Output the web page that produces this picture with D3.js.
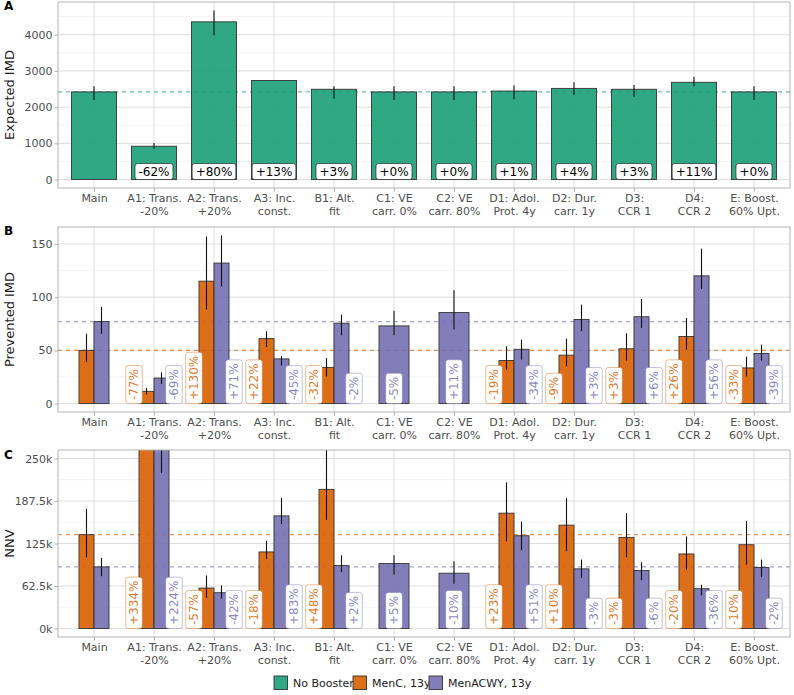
<!DOCTYPE html>
<html><head><meta charset="utf-8">
<script src="https://cdn.jsdelivr.net/npm/d3@7"></script>
<style>body{margin:0;background:#fff} svg{display:block;font-family:"DejaVu Sans",sans-serif}</style>
</head><body>
<svg id="chart" width="794" height="695"></svg>
<script>
// ---------- DATA ----------
const catLine1 = ["Main","A1: Trans.","A2: Trans.","A3: Inc.","B1: Alt.","C1: VE","C2: VE","D1: Adol.","D2: Dur.","D3:","D4:","E: Boost."];
const catLine2 = ["","-20%","+20%","const.","fit","carr. 0%","carr. 80%","Prot. 4y","carr. 1y","CCR 1","CCR 2","60% Upt."];

// Panel A: Expected IMD (No Booster)
const imdValue = [2420, 920, 4356, 2735, 2493, 2420, 2420, 2444, 2517, 2493, 2686, 2420];
const imdLo    = [2200, 850, 3984, null, 2235, 2200, 2200, 2215, 2335, 2290, 2580, 2200];
const imdHi    = [2580, 1008, 4670, null, 2580, 2580, 2580, 2600, 2690, 2610, 2840, 2580];
const imdPct   = ["", "-62%", "+80%", "+13%", "+3%", "+0%", "+0%", "+1%", "+4%", "+3%", "+11%", "+0%"];
const imdTicks = [0, 1000, 2000, 3000, 4000];
const imdTickLabels = ["0", "1000", "2000", "3000", "4000"];

// Panel B: Prevented IMD
const prevMenC     = [50, 11.5, 115, 61, 34, null, null, 40.5, 45.5, 51.5, 63, 33.5];
const prevMenCLo   = [39.2, 8.4, 88.3, 53.2, 25.4, null, null, 31.9, 35, 40.4, 50.7, 25.6];
const prevMenCHi   = [65.7, 14.7, 157, 68, 42.9, null, null, 53.8, 61, 66, 80.5, 44.1];
const prevMenCPct  = ["", "-77%", "+130%", "+22%", "-32%", "", "", "-19%", "-9%", "+3%", "+26%", "-33%"];
const prevACWY     = [77, 24, 132, 42, 75.5, 73, 85.5, 51, 79, 81.6, 120, 47];
const prevACWYLo   = [65.5, 18.5, 110, 35.7, 64.2, 64.2, 69.5, 41.3, 68, 71.1, 107.7, 40.4];
const prevACWYHi   = [90.8, 29.4, 158, 44.5, 83.6, 87.3, 106.4, 60.1, 93, 98.3, 145.6, 55.4];
const prevACWYPct  = ["", "-69%", "+71%", "-45%", "-2%", "-5%", "+11%", "-34%", "+3%", "+6%", "+56%", "-39%"];
const prevTicks = [0, 50, 100, 150];
const prevTickLabels = ["0", "50", "100", "150"];

// Panel C: NNV
const nnvMenC     = [138000, 599000, 59500, 112600, 204600, null, null, 169600, 152000, 134000, 109600, 123200];
const nnvMenCLo   = [104700, 420000, 45000, 102000, 159800, null, null, 128000, 113500, 104700, 86700, 94000];
const nnvMenCHi   = [175900, 900000, 78000, 129000, 300000, null, null, 214900, 191500, 169600, 135400, 158300];
const nnvMenCPct  = ["", "+334%", "-57%", "-18%", "+48%", "", "", "+23%", "+10%", "-3%", "-20%", "-10%"];
const nnvACWY     = [90600, 293500, 52600, 165600, 92500, 95500, 81300, 136400, 87700, 85200, 58500, 89600];
const nnvACWYLo   = [76900, 229000, 43900, 153500, 82800, 79400, 65800, 115000, 74500, 71000, 48700, 76000];
const nnvACWYHi   = [103800, 420000, 63300, 192000, 107600, 107600, 98900, 157300, 101300, 97400, 64300, 101300];
const nnvACWYPct  = ["", "+224%", "-42%", "+83%", "+2%", "+5%", "-10%", "+51%", "-3%", "-6%", "-36%", "-2%"];
const nnvTicks = [0, 62500, 125000, 187500, 250000];
const nnvTickLabels = ["0k", "62.5k", "125k", "187.5k", "250k"];

const legendLabels = ["No Booster", "MenC, 13y", "MenACWY, 13y"];
const seriesColors = ["#1B9E77", "#D95F02", "#7570B3"];

// ---------- DRAW ----------
const svg = d3.select("#chart");
const idx = d3.range(catLine1.length);
const x = d3.scaleLinear().domain([-0.6, catLine1.length - 0.4]).range([58, 790]);
const fade = (c, a) => { const k = d3.color(c); k.opacity = a; return k.formatRgb(); };

function midpoints(t, extra) {
  const m = [];
  for (let i = 0; i < t.length - 1; i++) m.push((t[i] + t[i + 1]) / 2);
  if (extra) m.push(t[t.length - 1] + (t[1] - t[0]) / 2);
  return m;
}

function drawPanel(o) {
  const y = d3.scaleLinear().domain(o.domain).range([o.bottom, o.top]);
  const g = svg.append("g");
  const cid = "clip" + o.letter;
  svg.append("clipPath").attr("id", cid).append("rect")
    .attr("x", x.range()[0]).attr("y", o.top)
    .attr("width", x.range()[1] - x.range()[0]).attr("height", o.bottom - o.top);
  const pg = g.append("g").attr("clip-path", `url(#${cid})`);

  // grid
  pg.selectAll(".ymin").data(midpoints(o.ticks, true).filter(v => v < o.domain[1])).join("line")
    .attr("x1", x.range()[0]).attr("x2", x.range()[1])
    .attr("y1", d => y(d)).attr("y2", d => y(d))
    .attr("stroke", "#EDEDED").attr("stroke-width", 0.6);
  pg.selectAll(".ymaj").data(o.ticks).join("line")
    .attr("x1", x.range()[0]).attr("x2", x.range()[1])
    .attr("y1", d => y(d)).attr("y2", d => y(d))
    .attr("stroke", "#DEDEDE").attr("stroke-width", 1);
  pg.selectAll(".xmaj").data(idx).join("line")
    .attr("x1", d => x(d)).attr("x2", d => x(d))
    .attr("y1", o.top).attr("y2", o.bottom)
    .attr("stroke", "#DEDEDE").attr("stroke-width", 1);

  // reference lines
  o.series.forEach(s => {
    pg.append("line")
      .attr("x1", x.range()[0]).attr("x2", x.range()[1])
      .attr("y1", y(s.vals[0])).attr("y2", y(s.vals[0]))
      .attr("stroke", fade(s.color, 0.65)).attr("stroke-width", 1.1)
      .attr("stroke-dasharray", "4,4");
  });

  const nS = o.series.length;
  const layout = (si, i) => {
    if (nS === 1) return { off: 0, w: 0.75, loff: 0 };
    const present = o.series.filter(s => s.vals[i] != null).length;
    if (present === 1) return { off: 0, w: 0.5, loff: 0 };
    return { off: si === 0 ? -0.125 : 0.125, w: 0.25, loff: si === 0 ? -0.333 : 0.333 };
  };

  // bars
  o.series.forEach((s, si) => {
    const d = idx.filter(i => s.vals[i] != null);
    pg.selectAll(null).data(d).join("rect")
      .attr("x", i => { const L = layout(si, i); return x(i + L.off - L.w / 2); })
      .attr("width", i => { const L = layout(si, i); return x(L.w) - x(0); })
      .attr("y", i => y(Math.max(s.vals[i], 0)))
      .attr("height", i => y(0) - y(s.vals[i]))
      .attr("fill", fade(s.color, 0.9))
      .attr("stroke", "#333").attr("stroke-width", 0.9);
  });
  // error bars
  o.series.forEach((s, si) => {
    const d = idx.filter(i => s.lo[i] != null);
    pg.selectAll(null).data(d).join("line")
      .attr("x1", i => x(i + layout(si, i).off)).attr("x2", i => x(i + layout(si, i).off))
      .attr("y1", i => y(s.lo[i])).attr("y2", i => y(s.hi[i]))
      .attr("stroke", "#111").attr("stroke-width", 1.1);
  });
  // labels
  o.series.forEach((s, si) => {
    idx.forEach(i => {
      const txt = s.pct[i];
      if (!txt) return;
      const L = layout(si, i);
      const cx = x(i + L.loff);
      const pad = 3.5, h = 16;
      if (nS === 1) {
        const lg = g.append("g").attr("transform", `translate(${cx},${y(0)})`);
        const t = lg.append("text").attr("x", 0).attr("y", -h / 2).attr("dy", "0.36em")
          .attr("text-anchor", "middle").attr("font-size", 12).attr("fill", "#000").text(txt);
        const w = t.node().getComputedTextLength();
        lg.insert("rect", "text").attr("x", -w / 2 - pad).attr("y", -h).attr("width", w + 2 * pad)
          .attr("height", h).attr("rx", 2.5).attr("fill", "#fff").attr("stroke", "#222").attr("stroke-width", 0.7);
      } else {
        const lg = g.append("g").attr("transform", `translate(${cx},${y(0)}) rotate(-90)`);
        const t = lg.append("text").attr("x", pad).attr("y", 0).attr("dy", "0.36em")
          .attr("font-size", 12).attr("fill", fade(s.color, 0.85)).text(txt);
        const w = t.node().getComputedTextLength();
        lg.insert("rect", "text").attr("x", 0).attr("y", -h / 2 - 0.3).attr("width", w + 2 * pad)
          .attr("height", h + 0.6).attr("rx", 2.5).attr("fill", "#fff")
          .attr("stroke", fade(s.color, 0.55)).attr("stroke-width", 0.8);
      }
    });
  });

  // border
  g.append("rect").attr("x", x.range()[0]).attr("y", o.top)
    .attr("width", x.range()[1] - x.range()[0]).attr("height", o.bottom - o.top)
    .attr("fill", "none").attr("stroke", "#B3B3B3").attr("stroke-width", 1);

  // y axis
  const ya = g.append("g").attr("transform", `translate(${x.range()[0]},0)`)
    .call(d3.axisLeft(y).tickValues(o.ticks).tickFormat((d, k) => o.tickLabels[k]).tickSize(3.5).tickPadding(2));
  ya.select(".domain").remove();
  ya.selectAll(".tick line").attr("stroke", "#B3B3B3");
  ya.selectAll(".tick text").attr("fill", "#4D4D4D").attr("font-size", 11).attr("font-family", "DejaVu Sans");

  // x axis
  const xa = g.append("g").attr("transform", `translate(0,${o.bottom})`)
    .call(d3.axisBottom(x).tickValues(idx).tickFormat(() => "").tickSize(3.5));
  xa.select(".domain").remove();
  xa.selectAll(".tick line").attr("stroke", "#B3B3B3");
  xa.selectAll(".tick").each(function (i) {
    const t = d3.select(this).append("text").attr("fill", "#4D4D4D").attr("font-size", 11)
      .attr("text-anchor", "middle").attr("font-family", "DejaVu Sans");
    t.append("tspan").attr("x", 0).attr("y", 14).text(catLine1[i]);
    if (catLine2[i]) t.append("tspan").attr("x", 0).attr("y", 26.5).text(catLine2[i]);
  });

  // titles
  svg.append("text").attr("transform", `translate(14,${(o.top + o.bottom) / 2}) rotate(-90)`)
    .attr("text-anchor", "middle").attr("font-size", 13).attr("fill", "#1a1a1a").text(o.title);
  svg.append("text").attr("x", 4).attr("y", o.letterY).attr("font-size", 12).attr("font-weight", "bold")
    .attr("fill", "#000").text(o.letter);
}

const padMax = (m) => [-0.05 * m, 1.05 * m];

drawPanel({
  letter: "A", letterY: 10, title: "Expected IMD", top: 2, bottom: 188,
  domain: padMax(d3.max(imdHi)), ticks: imdTicks, tickLabels: imdTickLabels,
  series: [{ vals: imdValue, lo: imdLo, hi: imdHi, pct: imdPct, color: seriesColors[0] }]
});
drawPanel({
  letter: "B", letterY: 235, title: "Prevented IMD", top: 227, bottom: 412,
  domain: padMax(d3.max(prevACWYHi.concat(prevMenCHi))), ticks: prevTicks, tickLabels: prevTickLabels,
  series: [
    { vals: prevMenC, lo: prevMenCLo, hi: prevMenCHi, pct: prevMenCPct, color: seriesColors[1] },
    { vals: prevACWY, lo: prevACWYLo, hi: prevACWYHi, pct: prevACWYPct, color: seriesColors[2] }
  ]
});
drawPanel({
  letter: "C", letterY: 459, title: "NNV", top: 450, bottom: 637,
  domain: padMax(d3.max(nnvTicks)), ticks: nnvTicks, tickLabels: nnvTickLabels,
  series: [
    { vals: nnvMenC, lo: nnvMenCLo, hi: nnvMenCHi, pct: nnvMenCPct, color: seriesColors[1] },
    { vals: nnvACWY, lo: nnvACWYLo, hi: nnvACWYHi, pct: nnvACWYPct, color: seriesColors[2] }
  ]
});

// legend
const legendX = [274, 353, 429];
const lg = svg.append("g");
legendLabels.forEach((lab, k) => {
  lg.append("rect").attr("x", legendX[k]).attr("y", 676).attr("width", 13.5).attr("height", 13.5)
    .attr("fill", fade(seriesColors[k], 0.9)).attr("stroke", "#333").attr("stroke-width", 0.9);
  lg.append("text").attr("x", legendX[k] + 19).attr("y", 686.8).attr("font-size", 11)
    .attr("fill", "#1a1a1a").text(lab);
});
</script>
</body></html>
